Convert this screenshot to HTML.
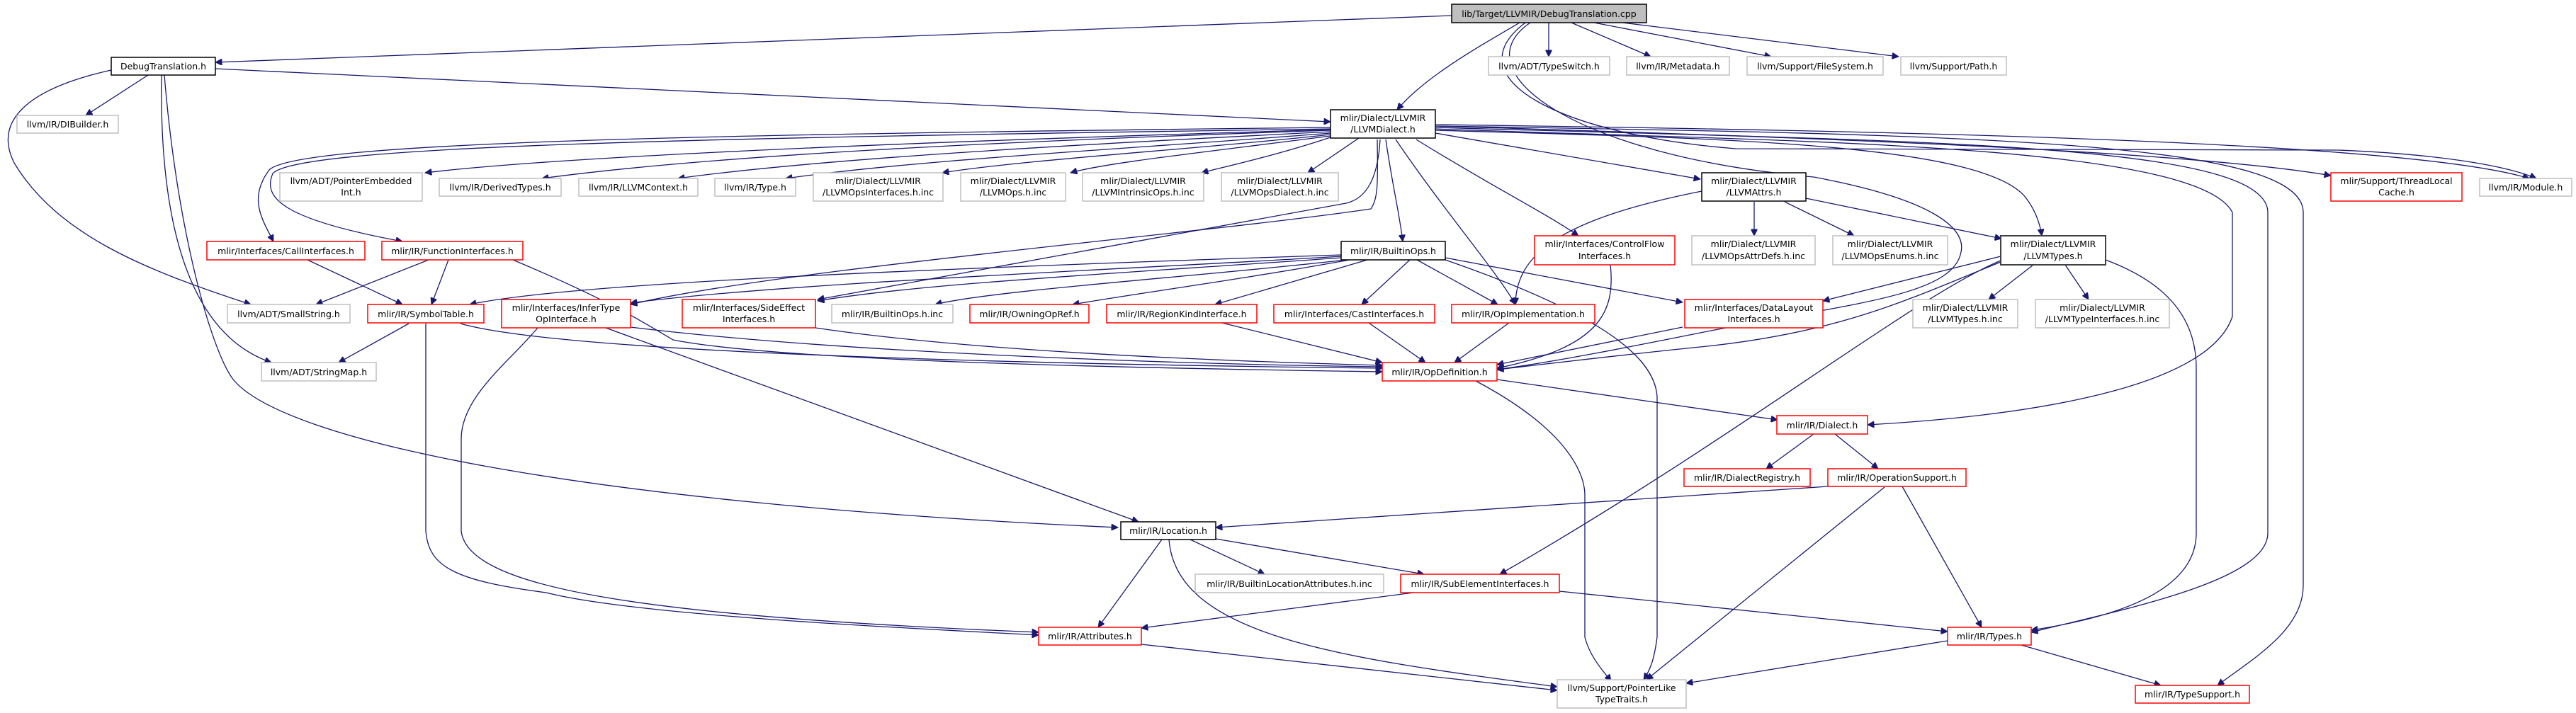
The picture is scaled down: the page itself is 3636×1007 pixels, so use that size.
<!DOCTYPE html>
<html><head><meta charset="utf-8">
<style>
html,body{margin:0;padding:0;background:#fff;}
svg{display:block;}
text{font-family:"DejaVu Sans","Liberation Sans",sans-serif;font-size:12.5px;fill:#000;text-anchor:middle;}
.g{fill:#fff;stroke:#bfbfbf;stroke-width:1.5}
.r{fill:#fff;stroke:#ff0000;stroke-width:1.5}
.b{fill:#fff;stroke:#000;stroke-width:1.5}
.d{fill:#fff;stroke:#404040;stroke-width:2}
.e{fill:none;stroke:#191970;stroke-width:1.3;marker-end:url(#ah)}
</style></head><body>
<svg width="3636" height="1007" viewBox="0 0 3636 1007" xmlns="http://www.w3.org/2000/svg">
<defs><marker id="ah" viewBox="0 0 10 10" refX="10" refY="5" markerWidth="11" markerHeight="9" markerUnits="userSpaceOnUse" orient="auto"><path d="M0,0 L10,5 L0,10 z" fill="#191970" stroke="#191970"/></marker></defs>

<g>
<path class="e" d="M2049,22 L304,88"/>
<path class="e" d="M2145,32 C2080,70 2010,110 1972,155"/>
<path class="e" d="M2186,32 L2186,80"/>
<path class="e" d="M2218,32 L2330,80"/>
<path class="e" d="M2250,32 L2500,80"/>
<path class="e" d="M2290,32 L2680,80"/>
<path class="e" d="M2153,32 C2050,110 2200,190 2450,210 L3300,212 C3450,218 3540,235 3580,252"/>
<path class="e" d="M2160,32 C2060,100 2220,220 2560,250 C2720,280 2780,320 2767,360 C2750,420 2600,430 2400,470 C2300,490 2200,510 2113,522"/>
<path class="e" d="M304,97 L1878,172"/>
<path class="e" d="M209,106 L121,163"/>
<path class="e" d="M157,99 C40,125 -10,170 20,230 C80,330 200,380 354,430"/>
<path class="e" d="M228,106 C225,300 260,470 383,512"/>
<path class="e" d="M232,106 C250,330 300,500 330,537 C400,620 800,710 1578,745"/>

<path class="e" d="M1878,180 C1000,190 420,200 380,240 C350,280 370,310 386,341"/>
<path class="e" d="M1878,182 C1000,195 420,205 385,245 C370,280 400,310 568,341"/>
<path class="e" d="M1878,183 C1300,200 800,220 600,244"/>
<path class="e" d="M1878,184 C1400,200 1000,220 765,252"/>
<path class="e" d="M1878,186 C1500,205 1150,225 957,252"/>
<path class="e" d="M1878,188 C1600,210 1300,225 1109,252"/>
<path class="e" d="M1878,190 C1700,210 1450,225 1330,244"/>
<path class="e" d="M1878,192 C1700,215 1560,230 1511,244"/>
<path class="e" d="M1878,194 C1800,220 1730,235 1696,244"/>
<path class="e" d="M1918,195 L1846,244"/>
<path class="e" d="M1948,197 C1945,250 1930,280 1900,287 L1154,423"/>
<path class="e" d="M1944,197 C1945,260 1945,280 1935,295 C1700,330 1100,380 890,430"/>
<path class="e" d="M1956,197 C1965,260 1975,300 1980,341"/>
<path class="e" d="M1970,197 C2040,300 2110,380 2139,430"/>
<path class="e" d="M1999,197 C2100,260 2180,300 2228,333"/>
<path class="e" d="M2026,188 L2400,253"/>
<path class="e" d="M2026,184 C2400,195 2800,200 2860,280 C2875,300 2880,320 2882,333"/>
<path class="e" d="M2026,182 C2500,200 3100,200 3151,300 L3151,447 C3120,540 2900,585 2636,600"/>
<path class="e" d="M2026,180 C2700,200 3201,200 3201,300 L3201,753 C3201,820 3000,860 2867,893"/>
<path class="e" d="M2026,178 C2800,190 3251,200 3251,300 L3251,827 C3251,890 3180,930 3130,968"/>
<path class="e" d="M2026,178 C2600,195 3100,215 3290,248"/>
<path class="e" d="M2026,176 C2700,185 3400,200 3570,252"/>

<path class="e" d="M2402,270 C2200,310 2140,360 2139,430"/>
<path class="e" d="M2476,285 L2476,333"/>
<path class="e" d="M2519,285 L2617,333"/>
<path class="e" d="M2549,280 L2825,337"/>
<path class="e" d="M2870,374 L2807,423"/>
<path class="e" d="M2915,374 L2948,423"/>
<path class="e" d="M2824,362 L2573,425"/>
<path class="e" d="M2824,368 C2700,420 2450,620 2117,811"/>
<path class="e" d="M2824,370 C2700,420 2600,470 2400,490 C2300,500 2200,512 2113,522"/>
<path class="e" d="M2972,367 C3060,400 3100,450 3100,520 L3100,753 C3100,830 3000,870 2867,890"/>

<path class="e" d="M1893,360 C1300,380 800,400 663,430"/>
<path class="e" d="M1893,362 C1600,380 1100,400 890,428"/>
<path class="e" d="M1893,364 C1600,385 1300,400 1154,425"/>
<path class="e" d="M1900,367 C1700,390 1400,410 1320,430"/>
<path class="e" d="M1905,367 C1750,395 1600,415 1514,430"/>
<path class="e" d="M1930,367 L1715,430"/>
<path class="e" d="M1990,367 L1922,430"/>
<path class="e" d="M2000,367 L2114,430"/>
<path class="e" d="M2040,364 L2375,427"/>
<path class="e" d="M2040,367 C2250,440 2335,500 2339,560 L2339,900 C2335,930 2330,945 2320,960"/>

<path class="e" d="M605,367 L446,430"/>
<path class="e" d="M633,367 L609,430"/>
<path class="e" d="M724,367 C850,420 900,450 950,480 C1100,510 1600,520 1951,525"/>
<path class="e" d="M434,367 L568,430"/>
<path class="e" d="M577,457 L478,512"/>
<path class="e" d="M650,457 C800,500 1500,515 1951,520"/>
<path class="e" d="M601,457 L601,750 C605,800 640,820 771,837 C900,870 1300,888 1466,897"/>
<path class="e" d="M759,463 C720,510 651,560 651,620 L651,750 C660,830 900,870 1466,893"/>
<path class="e" d="M855,463 L1607,737"/>
<path class="e" d="M890,462 C1200,500 1700,515 1951,518"/>
<path class="e" d="M1151,463 C1400,500 1800,512 1951,516"/>
<path class="e" d="M1932,456 L2012,512"/>
<path class="e" d="M2130,456 L2053,512"/>
<path class="e" d="M1725,456 L1951,512"/>
<path class="e" d="M2375,462 L2113,515"/>
<path class="e" d="M2273,374 C2280,440 2260,490 2113,520"/>

<path class="e" d="M2113,536 L2509,593"/>
<path class="e" d="M2083,538 C2200,600 2237,660 2237,700 L2237,900 C2245,930 2265,950 2274,962"/>
<path class="e" d="M2560,613 L2493,662"/>
<path class="e" d="M2590,613 L2651,662"/>
<path class="e" d="M2580,687 L1716,745"/>
<path class="e" d="M2660,688 L2324,960"/>
<path class="e" d="M2685,687 L2797,886"/>
<path class="e" d="M1680,762 L1785,811"/>
<path class="e" d="M1716,761 L2010,811"/>
<path class="e" d="M1640,762 L1550,886"/>
<path class="e" d="M1650,762 C1660,900 1900,930 2198,970"/>
<path class="e" d="M1995,837 L1611,887"/>
<path class="e" d="M2201,835 L2749,892"/>
<path class="e" d="M1611,910 L2198,975"/>
<path class="e" d="M2749,905 L2380,965"/>
<path class="e" d="M2853,911 L3050,968"/>
</g>

<rect x="2049" y="6" width="275" height="26" fill="#bfbfbf" stroke="#000" stroke-width="1.5"/><text x="2186.5" y="24">lib/Target/LLVMIR/DebugTranslation.cpp</text>
<rect class="b" x="157" y="81" width="147" height="25"/><text x="230.5" y="98">DebugTranslation.h</text>
<rect class="g" x="24" y="163" width="143" height="25"/><text x="95.5" y="180">llvm/IR/DIBuilder.h</text>
<rect class="b" x="1878" y="155" width="148" height="40"/><text x="1952" y="171">mlir/Dialect/LLVMIR</text><text x="1952" y="187">/LLVMDialect.h</text>
<rect class="g" x="2101" y="80" width="171" height="26"/><text x="2186.5" y="98">llvm/ADT/TypeSwitch.h</text>
<rect class="g" x="2296" y="80" width="145" height="26"/><text x="2368.5" y="98">llvm/IR/Metadata.h</text>
<rect class="g" x="2466" y="80" width="192" height="26"/><text x="2562" y="98">llvm/Support/FileSystem.h</text>
<rect class="g" x="2683" y="80" width="149" height="26"/><text x="2757.5" y="98">llvm/Support/Path.h</text>
<rect class="g" x="395" y="244" width="201" height="40"/><text x="495.5" y="260">llvm/ADT/PointerEmbedded</text><text x="495.5" y="276">Int.h</text>
<rect class="g" x="620" y="252" width="172" height="25"/><text x="706" y="269">llvm/IR/DerivedTypes.h</text>
<rect class="g" x="817" y="252" width="168" height="25"/><text x="901" y="269">llvm/IR/LLVMContext.h</text>
<rect class="g" x="1009" y="252" width="114" height="25"/><text x="1066" y="269">llvm/IR/Type.h</text>
<rect class="g" x="1148" y="244" width="183" height="40"/><text x="1239.5" y="260">mlir/Dialect/LLVMIR</text><text x="1239.5" y="276">/LLVMOpsInterfaces.h.inc</text>
<rect class="g" x="1356" y="244" width="148" height="40"/><text x="1430" y="260">mlir/Dialect/LLVMIR</text><text x="1430" y="276">/LLVMOps.h.inc</text>
<rect class="g" x="1528" y="244" width="171" height="40"/><text x="1613.5" y="260">mlir/Dialect/LLVMIR</text><text x="1613.5" y="276">/LLVMIntrinsicOps.h.inc</text>
<rect class="g" x="1724" y="244" width="165" height="40"/><text x="1806.5" y="260">mlir/Dialect/LLVMIR</text><text x="1806.5" y="276">/LLVMOpsDialect.h.inc</text>
<rect class="b" x="2402" y="244" width="147" height="40"/><text x="2475.5" y="260">mlir/Dialect/LLVMIR</text><text x="2475.5" y="276">/LLVMAttrs.h</text>
<rect class="r" x="3290" y="244" width="185" height="40"/><text x="3382.5" y="260">mlir/Support/ThreadLocal</text><text x="3382.5" y="276">Cache.h</text>
<rect class="g" x="3500" y="252" width="130" height="25"/><text x="3565" y="269">llvm/IR/Module.h</text>
<rect class="r" x="292" y="341" width="223" height="26"/><text x="403.5" y="359">mlir/Interfaces/CallInterfaces.h</text>
<rect class="r" x="539" y="341" width="199" height="26"/><text x="638.5" y="359">mlir/IR/FunctionInterfaces.h</text>
<rect class="b" x="1893" y="341" width="147" height="26"/><text x="1966.5" y="359">mlir/IR/BuiltinOps.h</text>
<rect class="r" x="2166" y="333" width="198" height="41"/><text x="2265" y="349">mlir/Interfaces/ControlFlow</text><text x="2265" y="366">Interfaces.h</text>
<rect class="g" x="2388" y="333" width="174" height="41"/><text x="2475" y="349">mlir/Dialect/LLVMIR</text><text x="2475" y="366">/LLVMOpsAttrDefs.h.inc</text>
<rect class="g" x="2587" y="333" width="162" height="41"/><text x="2668" y="349">mlir/Dialect/LLVMIR</text><text x="2668" y="366">/LLVMOpsEnums.h.inc</text>
<rect class="d" x="2824" y="333" width="148" height="41"/><text x="2898" y="349">mlir/Dialect/LLVMIR</text><text x="2898" y="366">/LLVMTypes.h</text>
<rect class="g" x="321" y="430" width="173" height="26"/><text x="407.5" y="448">llvm/ADT/SmallString.h</text>
<rect class="r" x="519" y="430" width="164" height="26"/><text x="601" y="448">mlir/IR/SymbolTable.h</text>
<rect class="r" x="708" y="423" width="182" height="40"/><text x="799" y="439">mlir/Interfaces/InferType</text><text x="799" y="455">OpInterface.h</text>
<rect class="r" x="963" y="423" width="188" height="40"/><text x="1057" y="439">mlir/Interfaces/SideEffect</text><text x="1057" y="455">Interfaces.h</text>
<rect class="g" x="1174" y="430" width="171" height="26"/><text x="1259.5" y="448">mlir/IR/BuiltinOps.h.inc</text>
<rect class="r" x="1369" y="430" width="168" height="26"/><text x="1453" y="448">mlir/IR/OwningOpRef.h</text>
<rect class="r" x="1562" y="430" width="212" height="26"/><text x="1668" y="448">mlir/IR/RegionKindInterface.h</text>
<rect class="r" x="1798" y="430" width="227" height="26"/><text x="1911.5" y="448">mlir/Interfaces/CastInterfaces.h</text>
<rect class="r" x="2049" y="430" width="202" height="26"/><text x="2150" y="448">mlir/IR/OpImplementation.h</text>
<rect class="r" x="2378" y="423" width="195" height="40"/><text x="2475.5" y="439">mlir/Interfaces/DataLayout</text><text x="2475.5" y="455">Interfaces.h</text>
<rect class="g" x="2700" y="423" width="148" height="40"/><text x="2774" y="439">mlir/Dialect/LLVMIR</text><text x="2774" y="455">/LLVMTypes.h.inc</text>
<rect class="g" x="2873" y="423" width="189" height="40"/><text x="2967.5" y="439">mlir/Dialect/LLVMIR</text><text x="2967.5" y="455">/LLVMTypeInterfaces.h.inc</text>
<rect class="g" x="369" y="512" width="162" height="26"/><text x="450" y="530">llvm/ADT/StringMap.h</text>
<rect class="r" x="1951" y="512" width="162" height="26"/><text x="2032" y="530">mlir/IR/OpDefinition.h</text>
<rect class="r" x="2508" y="587" width="128" height="26"/><text x="2572" y="605">mlir/IR/Dialect.h</text>
<rect class="r" x="2377" y="662" width="178" height="25"/><text x="2466" y="679">mlir/IR/DialectRegistry.h</text>
<rect class="r" x="2580" y="662" width="195" height="25"/><text x="2677.5" y="679">mlir/IR/OperationSupport.h</text>
<rect class="b" x="1582" y="737" width="134" height="25"/><text x="1649" y="754">mlir/IR/Location.h</text>
<rect class="g" x="1687" y="811" width="266" height="26"/><text x="1820" y="829">mlir/IR/BuiltinLocationAttributes.h.inc</text>
<rect class="r" x="1977" y="811" width="224" height="26"/><text x="2089" y="829">mlir/IR/SubElementInterfaces.h</text>
<rect class="r" x="1466" y="886" width="145" height="25"/><text x="1538.5" y="903">mlir/IR/Attributes.h</text>
<rect class="r" x="2749" y="886" width="118" height="25"/><text x="2808" y="903">mlir/IR/Types.h</text>
<rect class="g" x="2198" y="960" width="182" height="40"/><text x="2289" y="976">llvm/Support/PointerLike</text><text x="2289" y="992">TypeTraits.h</text>
<rect class="r" x="3014" y="968" width="161" height="25"/><text x="3094.5" y="985">mlir/IR/TypeSupport.h</text>
</svg>
</body></html>
